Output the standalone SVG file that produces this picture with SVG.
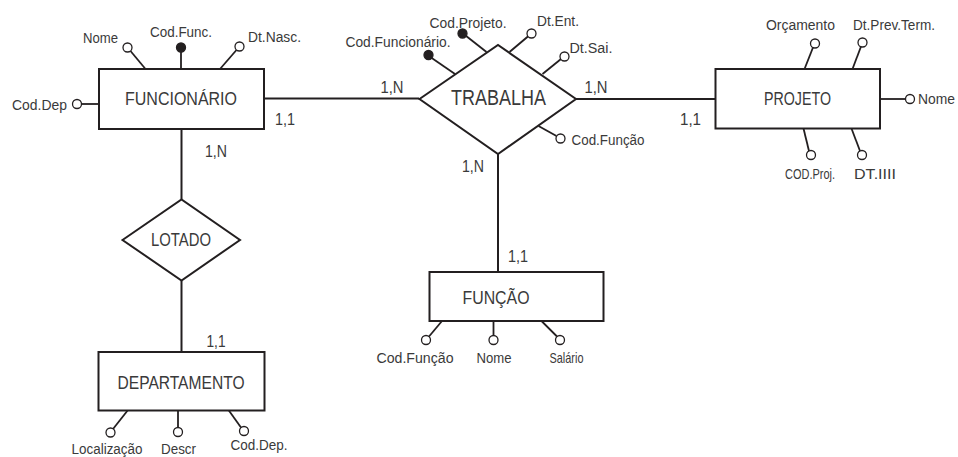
<svg xmlns="http://www.w3.org/2000/svg" width="958" height="457" viewBox="0 0 958 457">
  <style>
    .shape { fill: #ffffff; stroke: #231f20; stroke-width: 2; }
    .link { fill: none; stroke: #231f20; stroke-width: 2; }
    .attr { fill: none; stroke: #231f20; stroke-width: 1.8; }
    .open { fill: #ffffff; stroke: #231f20; stroke-width: 1.3; }
    .key { fill: #231f20; stroke: #231f20; stroke-width: 1.3; }
    text { font-family: "Liberation Sans", Arial, sans-serif; fill: #3a3a3a; }
    .name { font-size: 18.5px; text-anchor: middle; }
    .big { font-size: 22px; text-anchor: middle; }
    .lbl { font-size: 15.5px; text-anchor: middle; }
    .sm { font-size: 15px; }
    .card { font-size: 16.5px; text-anchor: middle; }
  </style>

  <!-- relationship lines and cardinalities -->
  <g id="connectors">
    <line class="link" x1="264" y1="98.5" x2="419" y2="98.5"/>
    <line class="link" x1="576" y1="99" x2="715" y2="99"/>
    <line class="link" x1="498" y1="154" x2="498" y2="272"/>
    <line class="link" x1="181.5" y1="129" x2="181.5" y2="199"/>
    <line class="link" x1="181.5" y1="281" x2="181.5" y2="352"/>
    <text class="card" x="285" y="125" textLength="20" lengthAdjust="spacingAndGlyphs">1,1</text>
    <text class="card" x="392" y="93" textLength="23" lengthAdjust="spacingAndGlyphs">1,N</text>
    <text class="card" x="596" y="93" textLength="23" lengthAdjust="spacingAndGlyphs">1,N</text>
    <text class="card" x="690.5" y="125" textLength="21" lengthAdjust="spacingAndGlyphs">1,1</text>
    <text class="card" x="216" y="157" textLength="22" lengthAdjust="spacingAndGlyphs">1,N</text>
    <text class="card" x="473" y="172" textLength="22" lengthAdjust="spacingAndGlyphs">1,N</text>
    <text class="card" x="518" y="262" textLength="20" lengthAdjust="spacingAndGlyphs">1,1</text>
    <text class="card" x="216" y="347" textLength="19" lengthAdjust="spacingAndGlyphs">1,1</text>
  </g>

  <!-- entity: FUNCIONÁRIO -->
  <g id="funcionario">
    <line class="attr" x1="145.5" y1="69" x2="130.5" y2="51"/>
    <line class="attr" x1="181" y1="69" x2="181" y2="52"/>
    <line class="attr" x1="220" y1="69" x2="236.5" y2="50"/>
    <line class="attr" x1="99" y1="104" x2="81.5" y2="104"/>
    <circle class="open" cx="127.5" cy="47.5" r="4.5"/>
    <circle class="key" cx="181" cy="47.5" r="4.5"/>
    <circle class="open" cx="239.5" cy="46.5" r="4.5"/>
    <circle class="open" cx="77" cy="104" r="4.5"/>
    <rect class="shape" x="99" y="69" width="165" height="60"/>
    <text class="name" x="181" y="105" textLength="112" lengthAdjust="spacingAndGlyphs">FUNCIONÁRIO</text>
    <text class="lbl" x="100.5" y="43" textLength="35" lengthAdjust="spacingAndGlyphs">Nome</text>
    <text class="lbl" x="181" y="37" textLength="62" lengthAdjust="spacingAndGlyphs">Cod.Func.</text>
    <text class="lbl" x="274.5" y="42" textLength="53" lengthAdjust="spacingAndGlyphs">Dt.Nasc.</text>
    <text class="lbl" x="67" y="110" style="text-anchor:end" textLength="55" lengthAdjust="spacingAndGlyphs">Cod.Dep</text>
  </g>

  <!-- relationship: TRABALHA -->
  <g id="trabalha">
    <line class="attr" x1="455" y1="74" x2="431" y2="57.5"/>
    <line class="attr" x1="486.5" y1="52" x2="465.5" y2="35.5"/>
    <line class="attr" x1="509.5" y1="52" x2="528.5" y2="36"/>
    <line class="attr" x1="542.5" y1="74" x2="561" y2="59"/>
    <line class="attr" x1="538.5" y1="126" x2="556.5" y2="136"/>
    <circle class="key" cx="428.5" cy="55" r="4.5"/>
    <circle class="key" cx="462.5" cy="33.5" r="4.5"/>
    <circle class="open" cx="531.5" cy="33.5" r="4.5"/>
    <circle class="open" cx="564.5" cy="56.5" r="4.5"/>
    <circle class="open" cx="560.5" cy="138.5" r="4.5"/>
    <polygon class="shape" points="419.5,99 498,45 576,99 498,154"/>
    <text class="big" x="498.5" y="104.5" textLength="95" lengthAdjust="spacingAndGlyphs">TRABALHA</text>
    <text class="lbl" x="398" y="47" textLength="105" lengthAdjust="spacingAndGlyphs">Cod.Funcionário.</text>
    <text class="lbl" x="468" y="27.5" textLength="77" lengthAdjust="spacingAndGlyphs">Cod.Projeto.</text>
    <text class="lbl" x="558" y="26" textLength="42" lengthAdjust="spacingAndGlyphs">Dt.Ent.</text>
    <text class="lbl" x="591" y="53" textLength="43" lengthAdjust="spacingAndGlyphs">Dt.Sai.</text>
    <text class="lbl" x="571.5" y="145" style="text-anchor:start" textLength="73" lengthAdjust="spacingAndGlyphs">Cod.Função</text>
  </g>

  <!-- entity: PROJETO -->
  <g id="projeto">
    <line class="attr" x1="804.5" y1="69" x2="813" y2="47.5"/>
    <line class="attr" x1="852.5" y1="69" x2="861" y2="46.5"/>
    <line class="attr" x1="880" y1="99" x2="905.5" y2="99"/>
    <line class="attr" x1="803.5" y1="128.5" x2="809" y2="151"/>
    <line class="attr" x1="851.5" y1="128.5" x2="860" y2="151"/>
    <circle class="open" cx="815" cy="43.5" r="4.5"/>
    <circle class="open" cx="862.5" cy="42.5" r="4.5"/>
    <circle class="open" cx="910" cy="99" r="4.5"/>
    <circle class="open" cx="811" cy="155" r="4.5"/>
    <circle class="open" cx="862" cy="155" r="4.5"/>
    <rect class="shape" x="715.5" y="69" width="164.5" height="59.5"/>
    <text class="name" x="797.5" y="104.5" textLength="67" lengthAdjust="spacingAndGlyphs">PROJETO</text>
    <text class="lbl" x="800.5" y="29.5" textLength="69" lengthAdjust="spacingAndGlyphs">Orçamento</text>
    <text class="lbl" x="894" y="29.5" textLength="82" lengthAdjust="spacingAndGlyphs">Dt.Prev.Term.</text>
    <text class="lbl sm" x="918" y="104" style="text-anchor:start" textLength="37" lengthAdjust="spacingAndGlyphs">Nome</text>
    <text class="lbl sm" x="810" y="178.5" textLength="50" lengthAdjust="spacingAndGlyphs">COD.Proj.</text>
    <text class="lbl" x="875" y="178.5" textLength="42" lengthAdjust="spacingAndGlyphs">DT.IIII</text>
  </g>

  <!-- relationship: LOTADO -->
  <g id="lotado">
    <polygon class="shape" points="122.5,240 181.5,199.5 240,240 181.5,280.5"/>
    <text class="name" x="181" y="246" textLength="60" lengthAdjust="spacingAndGlyphs">LOTADO</text>
  </g>

  <!-- entity: DEPARTAMENTO -->
  <g id="departamento">
    <line class="attr" x1="128" y1="410" x2="113" y2="429"/>
    <line class="attr" x1="178" y1="410" x2="178" y2="428"/>
    <line class="attr" x1="228.5" y1="410" x2="241" y2="427.5"/>
    <circle class="open" cx="110.5" cy="432.5" r="4.5"/>
    <circle class="open" cx="178" cy="432" r="4.5"/>
    <circle class="open" cx="244" cy="431" r="4.5"/>
    <rect class="shape" x="98.5" y="352" width="166" height="58.5"/>
    <text class="name" x="181" y="388.5" textLength="127" lengthAdjust="spacingAndGlyphs">DEPARTAMENTO</text>
    <text class="lbl" x="107" y="454" textLength="71" lengthAdjust="spacingAndGlyphs">Localização</text>
    <text class="lbl sm" x="178.5" y="454" textLength="35" lengthAdjust="spacingAndGlyphs">Descr</text>
    <text class="lbl" x="259" y="450" textLength="57" lengthAdjust="spacingAndGlyphs">Cod.Dep.</text>
  </g>

  <!-- entity: FUNÇÃO -->
  <g id="funcao">
    <line class="attr" x1="442" y1="321" x2="429" y2="336.5"/>
    <line class="attr" x1="493.5" y1="321" x2="493.5" y2="335.5"/>
    <line class="attr" x1="541.5" y1="321" x2="557" y2="336.5"/>
    <circle class="open" cx="426" cy="340" r="4.5"/>
    <circle class="open" cx="493.5" cy="340" r="4.5"/>
    <circle class="open" cx="560" cy="340" r="4.5"/>
    <rect class="shape" x="429.5" y="272" width="174" height="49"/>
    <text class="name" x="496" y="303.5" textLength="67" lengthAdjust="spacingAndGlyphs">FUNÇÃO</text>
    <text class="lbl" x="415" y="363" textLength="77" lengthAdjust="spacingAndGlyphs">Cod.Função</text>
    <text class="lbl" x="494" y="363" textLength="35" lengthAdjust="spacingAndGlyphs">Nome</text>
    <text class="lbl sm" x="566.5" y="363" textLength="34" lengthAdjust="spacingAndGlyphs">Salário</text>
  </g>
</svg>
